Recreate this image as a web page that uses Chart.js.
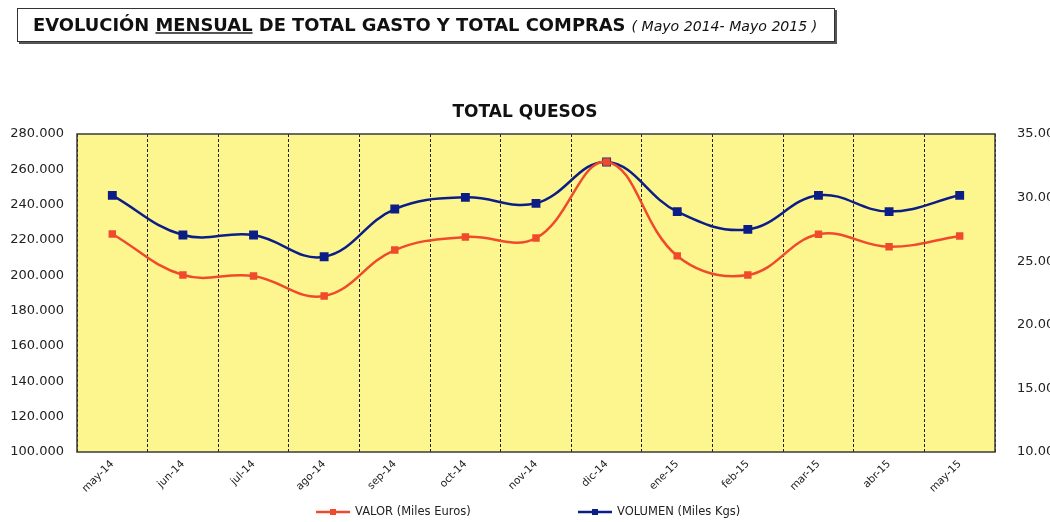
<!DOCTYPE html>
<html>
<head>
<meta charset="utf-8">
<script src="https://cdn.jsdelivr.net/npm/chart.js@4"></script>
<style>
  body { margin: 0; background: #fff; }
  #wrap { position: relative; width: 1050px; height: 522px; }
  #header {
    position: absolute; left: 17px; top: 8px; width: 801px; height: 32px;
    border: 1px solid #333; box-shadow: 2px 2px 0 #555;
    font-family: "DejaVu Sans", Verdana, sans-serif; color: #111;
    line-height: 32px; padding-left: 15px; box-sizing: content-box; white-space: nowrap;
  }
  #header b { font-size: 17.9px; }
  #header u { text-decoration-thickness: 2px; text-decoration-color: #555; }
  #header i { font-size: 14.1px; margin-left: 6px; font-weight: normal; }
  canvas { position: absolute; left: 0; top: 0; }
</style>
</head>
<body>
<div id="wrap">
  <canvas id="quesos" width="1050" height="522"></canvas>
  <div id="header"><b>EVOLUCIÓN <u>MENSUAL</u> DE TOTAL GASTO Y TOTAL COMPRAS</b><i>( Mayo 2014- Mayo 2015 )</i></div>
</div>
<script>
var meses = ['may-14', 'jun-14', 'jul-14', 'ago-14', 'sep-14', 'oct-14', 'nov-14', 'dic-14', 'ene-15', 'feb-15', 'mar-15', 'abr-15', 'may-15'];
// miles de euros (eje izquierdo)
var valor = [223400, 200200, 199600, 188300, 214300, 221700, 221100, 264200, 211000, 200200, 223200, 216200, 222300];
// miles de kgs (eje derecho)
var volumen = [30180, 27060, 27060, 25350, 29100, 30020, 29550, 32800, 28900, 27500, 30180, 28900, 30180];

// 280000 -> "280.000"
function fmt(v) {
    var s = String(Math.round(v));
    var out = '';
    while (s.length > 3) { out = '.' + s.slice(-3) + out; s = s.slice(0, -3); }
    return s + out;
}

// fondo amarillo y marco del area de trazado
var areaFondo = {
    id: 'areaFondo',
    beforeDraw: function(chart) {
        var a = chart.chartArea, ctx = chart.ctx;
        ctx.save();
        ctx.fillStyle = '#FDF68F';
        ctx.fillRect(a.left, a.top, a.right - a.left, a.bottom - a.top);
        ctx.restore();
    },
    afterDraw: function(chart) {
        var a = chart.chartArea, ctx = chart.ctx;
        ctx.save();
        ctx.strokeStyle = '#3a3a3a';
        ctx.lineWidth = 1.5;
        ctx.strokeRect(a.left, a.top, a.right - a.left, a.bottom - a.top);
        ctx.restore();
    }
};

// leyenda abajo: linea con marcador cuadrado
var leyenda = {
    id: 'leyenda',
    afterDraw: function(chart) {
        var ctx = chart.ctx;
        var xs = [316, 578];
        var y = 512;
        ctx.save();
        ctx.font = '11.5px "DejaVu Sans", Verdana, sans-serif';
        ctx.textBaseline = 'middle';
        chart.data.datasets.forEach(function(ds, i) {
            var x = xs[i];
            ctx.strokeStyle = ds.borderColor;
            ctx.lineWidth = 2.5;
            ctx.beginPath();
            ctx.moveTo(x, y);
            ctx.lineTo(x + 34, y);
            ctx.stroke();
            ctx.fillStyle = ds.borderColor;
            ctx.fillRect(x + 14, y - 3, 6, 6);
            ctx.fillStyle = '#222';
            ctx.fillText(ds.label, x + 39, y);
        });
        ctx.restore();
    }
};

var ctx = document.getElementById('quesos').getContext('2d');
var chart = new Chart(ctx, {
    type: 'line',
    data: {
        labels: meses,
        datasets: [
            {
                label: 'VALOR (Miles Euros)',
                data: valor,
                yAxisID: 'y',
                borderColor: '#F04A2C',
                backgroundColor: '#F04A2C',
                borderWidth: 2.5,
                pointStyle: 'rect',
                pointRadius: 3.5,
                tension: 0.4
            },
            {
                label: 'VOLUMEN (Miles Kgs)',
                data: volumen,
                yAxisID: 'y1',
                borderColor: '#0C1E86',
                backgroundColor: '#0C1E86',
                borderWidth: 2.5,
                pointStyle: 'rect',
                pointRadius: 4.5,
                tension: 0.4
            }
        ]
    },
    options: {
        responsive: false,
        animation: false,
        layout: { padding: { top: 102.3, bottom: 20, left: 0, right: 0 } },
        plugins: {
            legend: { display: false },
            tooltip: { enabled: false },
            title: {
                display: true,
                text: 'TOTAL QUESOS',
                color: '#111',
                font: { family: '"DejaVu Sans", Verdana, sans-serif', size: 17, weight: 'bold' },
                padding: { top: 0, bottom: 11.3 }
            }
        },
        scales: {
            x: {
                offset: true,
                grid: {
                    offset: true,
                    drawTicks: false,
                    color: '#222',
                    lineWidth: 1
                },
                border: { display: false, dash: [3, 2] },
                ticks: {
                    color: '#222',
                    minRotation: 45,
                    maxRotation: 45,
                    padding: 6,
                    font: { family: '"DejaVu Sans", Verdana, sans-serif', size: 10.5 }
                },
                afterFit: function(s) { s.height = 50; }
            },
            y: {
                position: 'left',
                min: 100000,
                max: 280000,
                grid: { display: false, drawTicks: false },
                border: { display: false },
                ticks: {
                    stepSize: 20000,
                    color: '#222',
                    padding: 13,
                    font: { family: '"DejaVu Sans", Verdana, sans-serif', size: 13 },
                    callback: function(v) { return fmt(v); }
                },
                afterFit: function(s) { s.width = 77; }
            },
            y1: {
                position: 'right',
                min: 10000,
                max: 35000,
                grid: { display: false, drawTicks: false },
                border: { display: false },
                ticks: {
                    stepSize: 5000,
                    color: '#222',
                    padding: 22,
                    font: { family: '"DejaVu Sans", Verdana, sans-serif', size: 13 },
                    callback: function(v) { return fmt(v); }
                },
                afterFit: function(s) { s.width = 55; }
            }
        }
    },
    plugins: [areaFondo, leyenda]
});
</script>
</body>
</html>
